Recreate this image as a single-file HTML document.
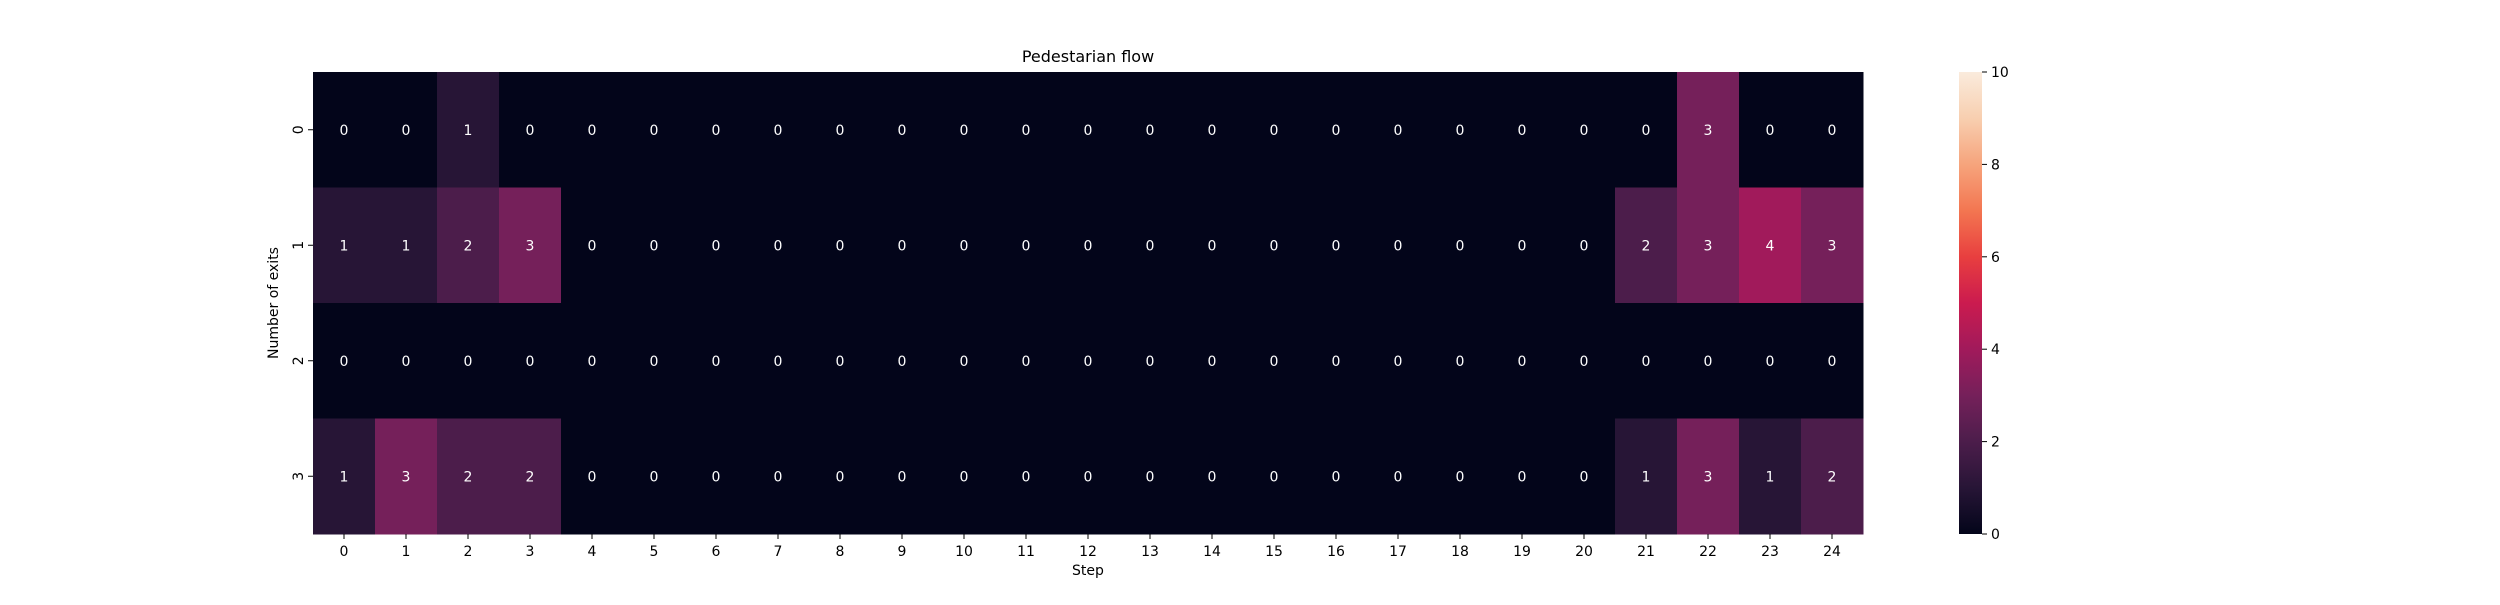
<!DOCTYPE html>
<html><head><meta charset="utf-8"><style>
html,body{margin:0;padding:0;background:#fff;}
svg text{font-family:"DejaVu Sans","Liberation Sans",sans-serif;}
</style></head><body>
<svg id="chart" width="2500" height="600" xmlns="http://www.w3.org/2000/svg"></svg>
<script>
const steps = [0,1,2,3,4,5,6,7,8,9,10,11,12,13,14,15,16,17,18,19,20,21,22,23,24];
const exitsRows = [0,1,2,3];
const row0 = [0,0,1,0,0,0,0,0,0,0,0,0,0,0,0,0,0,0,0,0,0,0,3,0,0];
const row1 = [1,1,2,3,0,0,0,0,0,0,0,0,0,0,0,0,0,0,0,0,0,2,3,4,3];
const row2 = [0,0,0,0,0,0,0,0,0,0,0,0,0,0,0,0,0,0,0,0,0,0,0,0,0];
const row3 = [1,3,2,2,0,0,0,0,0,0,0,0,0,0,0,0,0,0,0,0,0,1,3,1,2];
const colorbarTicks = [0,2,4,6,8,10];
const vmin = 0, vmax = 10;

const svg = document.getElementById('chart');
const NS = 'http://www.w3.org/2000/svg';
const L = 313, R = 1863, T = 72, B = 534;
const cw = (R - L) / steps.length, ch = (B - T) / exitsRows.length;
const xPos = i => L + i * cw;
const yPos = j => T + j * ch;

const stops = [[0,'#03051a'],[0.1,'#271536'],[0.2,'#4c1d4b'],[0.3,'#75205a'],[0.4,'#a11a5b'],[0.5,'#cb1b4f'],[0.6,'#e83f3f'],[0.7,'#f37651'],[0.8,'#f6a47c'],[0.9,'#f8cfb0'],[1,'#faebdd']];
function hex(h){return [1,3,5].map(k=>parseInt(h.substr(k,2),16));}
function cmap(v){
  let t=(v-vmin)/(vmax-vmin); t=Math.max(0,Math.min(1,t));
  for(let k=1;k<stops.length;k++){
    if(t<=stops[k][0]){
      const a=hex(stops[k-1][1]), b=hex(stops[k][1]);
      const f=(t-stops[k-1][0])/(stops[k][0]-stops[k-1][0]);
      return 'rgb('+a.map((x,i)=>Math.round(x+(b[i]-x)*f)).join(',')+')';
    }
  }
  return stops[stops.length-1][1];
}
function el(tag, attrs, text){
  const e=document.createElementNS(NS,tag);
  for(const k in attrs) e.setAttribute(k, attrs[k]);
  if(text!==undefined) e.textContent=text;
  svg.appendChild(e); return e;
}

const rows=[row0,row1,row2,row3];
rows.forEach((row,j)=>{
  row.forEach((v,i)=>{
    const r=el('rect',{x:xPos(i),y:yPos(j),width:cw+0.5,height:ch+0.5,fill:cmap(v)});
    
    
    const t=el('text',{x:xPos(i)+cw/2,y:yPos(j)+ch/2+5,'text-anchor':'middle','font-size':14,fill:'#fff'},String(v));
    
    
  });
});

steps.forEach((s,i)=>{
  const x=xPos(i)+cw/2;
  const tk=el('line',{x1:x,x2:x,y1:B,y2:B+5,stroke:'#000','stroke-width':1});
  
  
  const t=el('text',{x:x,y:B+22,'text-anchor':'middle','font-size':14,fill:'#000'},String(s));
  
  
});
exitsRows.forEach((r,j)=>{
  const y=yPos(j)+ch/2;
  const tk=el('line',{x1:L-5,x2:L,y1:y,y2:y,stroke:'#000','stroke-width':1});
  
  
  const t=el('text',{x:0,y:0,'text-anchor':'middle','font-size':14,fill:'#000',transform:'translate('+(L-10)+','+y+') rotate(-90)'},String(r));
  
  
});

const title=el('text',{x:(L+R)/2,y:62,'text-anchor':'middle','font-size':16,fill:'#000'},'Pedestarian flow');


const xl=el('text',{x:(L+R)/2,y:575,'text-anchor':'middle','font-size':14,fill:'#000'},'Step');


const yl=el('text',{x:0,y:0,'text-anchor':'middle','font-size':14,fill:'#000',transform:'translate(278,'+((T+B)/2)+') rotate(-90)'},'Number of exits');



// colorbar
const CL=1959, CR=1982;
const defs=document.createElementNS(NS,'defs'); svg.appendChild(defs);
const grad=document.createElementNS(NS,'linearGradient');
grad.setAttribute('id','cbg'); grad.setAttribute('x1','0'); grad.setAttribute('y1','1'); grad.setAttribute('x2','0'); grad.setAttribute('y2','0');
defs.appendChild(grad);
for(let k=0;k<=20;k++){
  const s=document.createElementNS(NS,'stop');
  s.setAttribute('offset',k/20); s.setAttribute('stop-color',cmap(vmin+(vmax-vmin)*k/20));
  grad.appendChild(s);
}
const cb=el('rect',{x:CL,y:T,width:CR-CL,height:B-T,fill:'url(#cbg)'});


const cy=v=>B-(v-vmin)/(vmax-vmin)*(B-T);
colorbarTicks.forEach(v=>{
  const tk=el('line',{x1:CR,x2:CR+5,y1:cy(v),y2:cy(v),stroke:'#000','stroke-width':1});
  
  
  const t=el('text',{x:CR+9,y:cy(v)+5,'font-size':14,fill:'#000'},String(v));
  
  
});
</script>
</body></html>
